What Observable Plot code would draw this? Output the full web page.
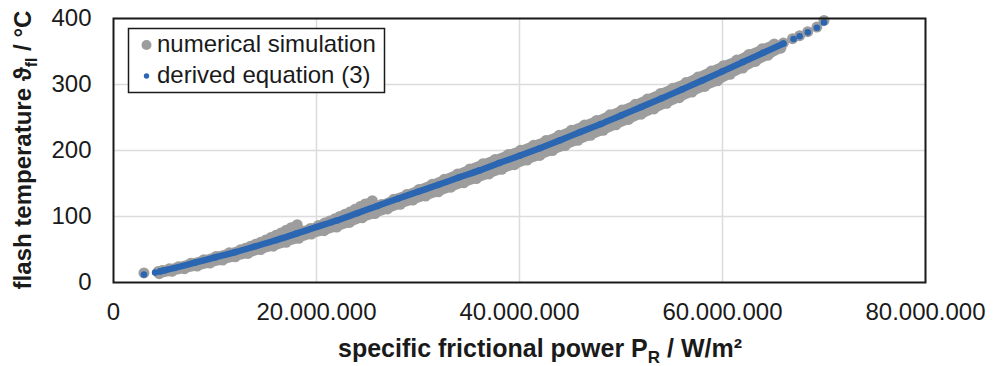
<!DOCTYPE html>
<html><head><meta charset="utf-8">
<script src="https://cdn.jsdelivr.net/npm/d3@7"></script>
<script src="https://cdn.jsdelivr.net/npm/@observablehq/plot@0.6"></script>
<style>body{margin:0;background:#fff}#chart{position:relative;width:1000px;height:366px}</style>
</head><body><div id="chart"></div>
<script>
// x values in millions of W/m², y in °C
const xTicks = [0, 20e6, 40e6, 60e6, 80e6];
const yTicks = [0, 100, 200, 300, 400];
const xGrid = [20e6, 40e6, 60e6, 80e6];
const yGrid = [100, 200, 300, 400];

// derived equation (3)
const eqX = [3.0, 4.1, 4.6, 5.0, 6, 8, 10, 12, 14, 16, 18, 20, 22, 24, 26, 28, 30, 32, 34, 36, 38, 40, 42, 44, 46, 48, 50, 52, 54, 56, 58, 60, 62, 64, 66.0, 67.0, 67.6, 68.4, 69.3, 70.0];
const eqY = [12, 15, 16.8, 18.3, 22, 30, 38, 46, 55, 64, 74, 84, 94, 105, 116, 127, 137.5, 148, 159, 169.5, 181, 192, 203.5, 215.5, 228, 240, 253, 266, 279, 292.5, 306, 320, 334, 348, 362, 369, 373, 379, 386, 394];

// numerical simulation (several runs)
const simRun1X = [4.4, 4.8, 5.5, 6.4, 7.6, 8.9, 10.1, 11.4, 12.5, 13, 13.5, 14, 14.5, 15, 15.5, 16, 16.5, 17, 17.5, 18.1];
const simRun1Y = [16.5, 18, 21, 24, 29, 34.5, 39.5, 45, 49.5, 52, 55, 58, 61, 64.5, 68, 71.5, 75, 79, 83, 87.5];
const simRun2X = [18.6, 19.4, 20.2, 20.8, 21.3, 21.8, 22.3, 22.8, 23.3, 23.8, 24.3, 24.8, 25.5];
const simRun2Y = [78, 82, 86.5, 90, 93, 96.5, 100, 103.5, 107, 111, 115, 119, 124];
const simRun3X = [26.4, 27.6, 28.9, 30.1, 31.4, 32.6, 33.9, 35.1, 36.4, 37.6, 38.9, 40.1, 41.4, 42.6, 43.9, 45.1, 46.4, 47.6, 48.9, 50.1, 51.4, 52.6, 53.9, 55.1, 56.4, 57.6, 58.9, 60.1, 61.4, 62.6, 63.9, 65.1];
const simRun3Y = [118, 126, 133.5, 141, 149, 156.5, 164.5, 172, 180, 186.5, 194, 200.5, 208, 215, 223, 230.5, 238.5, 245.5, 254, 261.5, 270, 278, 286.5, 294.5, 303, 311.5, 320.5, 328.5, 337, 345.5, 354, 361.5];
const simRun4X = [4.5, 5.75, 7, 8.25, 9.5, 10.75, 12, 13.25, 14.5, 15.75, 17, 18.25, 19.5, 20.75, 22, 23.25, 24.5, 25.75, 27, 28.25, 29.5, 30.75, 32, 33.25, 34.5, 35.75, 37, 38.25, 39.5, 40.75, 42, 43.25, 44.5, 45.75, 47, 48.25, 49.5, 50.75, 52, 53.25, 54.5, 55.75, 57, 58.25, 59.5, 60.75, 62, 63.25, 64.5, 65.75];
const simRun4Y = [13.3, 17, 21, 25, 29.5, 34, 39, 44, 50, 55, 61, 67, 73.5, 78.5, 84, 91, 98, 104.5, 111.5, 118.5, 125, 131, 137.5, 144.5, 151, 157.5, 164.5, 171.5, 178.5, 185.5, 192.5, 200, 207.5, 215.5, 223, 230.5, 239, 247, 255, 263, 271.5, 280, 288.5, 297, 305.5, 315.5, 325, 335, 344.5, 355];
const simSingleX = [3.0, 66.0, 66.9, 67.6, 68.4, 69.3, 70.0];
const simSingleY = [14.5, 363, 369.5, 374, 380, 387, 397];

const gray = "#9d9d9d", blue = "#2a66b1";
const fmt = d3.formatLocale({decimal: ",", thousands: ".", grouping: [3], currency: ["", " €"]}).format(",d");

const toRows = (run, xs, ys) => xs.map((x, i) => ({run, x: x * 1e6, y: ys[i]}));
const simLineRows = [
  ...toRows("r1", simRun1X, simRun1Y), ...toRows("r2", simRun2X, simRun2Y),
  ...toRows("r3", simRun3X, simRun3Y), ...toRows("r4", simRun4X, simRun4Y)];
const simRows = [...simLineRows, ...toRows("s", simSingleX, simSingleY)];
const eqRows = toRows("eq", eqX, eqY);
const eqLineRows = eqRows.filter(d => d.x >= 4.6e6 && d.x <= 66e6);

const plot = Plot.plot({
  width: 1000, height: 366,
  marginLeft: 113, marginRight: 75, marginTop: 18, marginBottom: 84,
  style: {fontFamily: "'Liberation Sans', Arial, sans-serif", fontSize: "24px", color: "#1a1a1a", background: "#fff", overflow: "visible"},
  x: {domain: [0, 80e6]},
  y: {domain: [0, 400]},
  marks: [
    Plot.gridX(xGrid, {stroke: "#dcdcdc", strokeOpacity: 1, strokeWidth: 1.5}),
    Plot.gridY(yGrid, {stroke: "#dcdcdc", strokeOpacity: 1, strokeWidth: 1.5}),
    Plot.line(simLineRows, {x: "x", y: "y", z: "run", stroke: gray, strokeWidth: 8.5, curve: "catmull-rom"}),
    Plot.dot(simRows, {x: "x", y: "y", r: 5.5, fill: gray}),
    Plot.line(eqLineRows, {x: "x", y: "y", stroke: blue, strokeWidth: 6.4, curve: "catmull-rom"}),
    Plot.dot(eqRows, {x: "x", y: "y", r: 3.3, fill: blue}),
    Plot.frame({stroke: "#1a1a1a", strokeWidth: 2}),
    Plot.axisX({ticks: xTicks, tickFormat: fmt, tickSize: 0, tickPadding: 20, fontSize: 24, label: null}),
    Plot.axisY({ticks: yTicks, tickSize: 0, tickPadding: 22, fontSize: 24, label: null})
  ]
});
document.getElementById("chart").appendChild(plot);

const svg = d3.select(plot);
// axis titles
const xt = svg.append("text").attr("x", 540).attr("y", 357).attr("text-anchor", "middle")
  .attr("font-weight", "bold").attr("font-size", 25).attr("fill", "#1a1a1a");
xt.append("tspan").text("specific frictional power P");
xt.append("tspan").attr("dy", 6).attr("font-size", 17).text("R");
xt.append("tspan").attr("dy", -6).text(" / W/m²");

const yt = svg.append("text").attr("transform", "translate(31,150) rotate(-90)").attr("text-anchor", "middle")
  .attr("font-weight", "bold").attr("font-size", 24).attr("fill", "#1a1a1a");
yt.append("tspan").text("flash temperature ϑ");
yt.append("tspan").attr("dy", 6).attr("font-size", 16).text("fl");
yt.append("tspan").attr("dy", -6).text(" / °C");

// legend
const lg = svg.append("g").attr("font-size", 24).attr("fill", "#1a1a1a").attr("text-anchor", "start");
lg.append("rect").attr("x", 128.5).attr("y", 28.5).attr("width", 256).attr("height", 64)
  .attr("fill", "#fff").attr("stroke", "#1a1a1a").attr("stroke-width", 1.5);
lg.append("circle").attr("cx", 146.5).attr("cy", 45).attr("r", 5).attr("fill", gray);
lg.append("text").attr("x", 157).attr("y", 52).attr("text-anchor", "start").text("numerical simulation");
lg.append("circle").attr("cx", 146.5).attr("cy", 76).attr("r", 2.7).attr("fill", blue);
lg.append("text").attr("x", 157).attr("y", 83).attr("text-anchor", "start").text("derived equation (3)");
</script>
</body></html>
